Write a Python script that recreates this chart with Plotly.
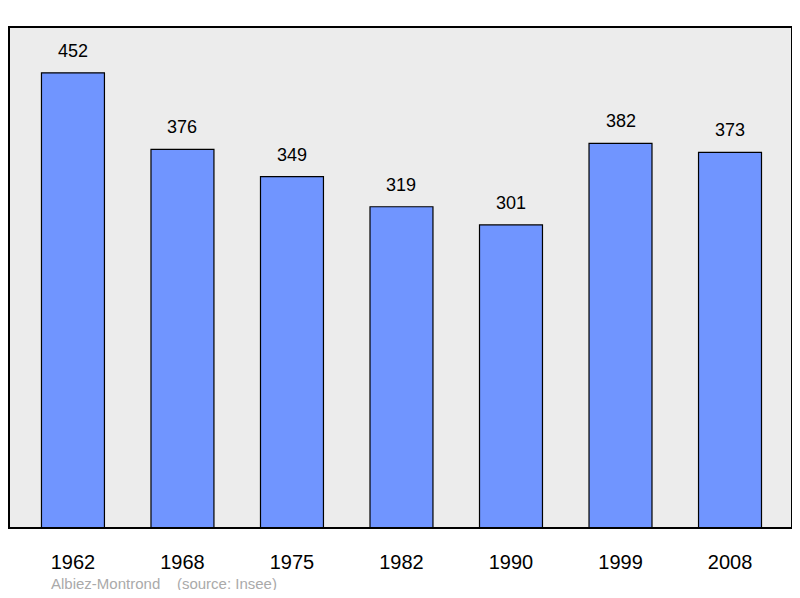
import plotly.graph_objects as go

years = ["1962", "1968", "1975", "1982", "1990", "1999", "2008"]
population = [452, 376, 349, 319, 301, 382, 373]

xs = list(range(len(years)))

fig = go.Figure()
fig.add_trace(go.Bar(
    x=xs, y=population, width=0.575,
    marker=dict(color="#7095ff", line=dict(color="black", width=1.2)),
))
for x, v in zip(xs, population):
    fig.add_annotation(x=x, y=v, text=str(v), showarrow=False, yanchor="bottom",
                       yshift=10, font=dict(size=18, color="black"))
# page body adds an 8px offset, so the figure is sized to compensate
fig.update_layout(
    width=784, height=582,
    margin=dict(l=1, r=0, t=19, b=62),
    paper_bgcolor="white", plot_bgcolor="#ececec",
    showlegend=False,
    font=dict(family="Liberation Sans", color="black"),
    xaxis=dict(range=[-0.584, 6.566], tickvals=xs, ticktext=years,
               tickfont=dict(size=20), showgrid=False, zeroline=False,
               ticks="outside", ticklen=16, tickcolor="rgba(0,0,0,0)"),
    yaxis=dict(range=[0, 497.5], visible=False, showgrid=False),
)
fig.add_shape(type="rect", xref="paper", yref="paper", x0=0, y0=0, x1=1, y1=1,
              line=dict(color="black", width=2))
fig.add_annotation(text="Albiez-Montrond &nbsp; &nbsp;(source: Insee)", xref="paper", yref="paper",
                   x=0.051, y=-0.11, xanchor="left", yanchor="middle", showarrow=False,
                   font=dict(size=15, color="#aaaaaa"))
fig.write_html("out.html")
